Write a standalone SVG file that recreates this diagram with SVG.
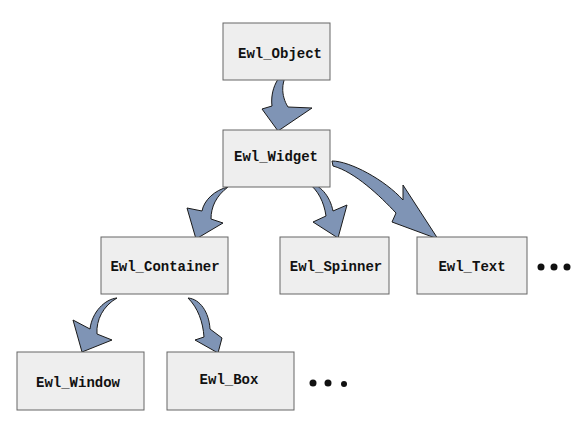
<svg xmlns="http://www.w3.org/2000/svg" width="579" height="429" viewBox="0 0 579 429">
<style>
.box{fill:#eeeeee;stroke:#666666;stroke-width:1}
.lbl{font-family:"Liberation Mono","Courier New",monospace;font-weight:bold;font-size:14px;fill:#111;text-anchor:middle;dominant-baseline:central}
.arr{fill:#7f94b5;stroke:#1a1a1a;stroke-width:1;stroke-linejoin:miter}
.dot{fill:#111}
</style>
<rect width="579" height="429" fill="#ffffff"/>
<g id="connectors">
<path class="arr" d="M 291,69 C 278,73 270,90 272,106 L 262,109 L 278,131 L 312,108 L 288,107 C 281,96 280,80 291,69 Z"/>
<path class="arr" d="M 228,187 C 215,190 204,200 202,211 L 187,208 L 196,239 L 223,223 L 211,219 C 211,207 216,196 228,187 Z"/>
<path class="arr" d="M 308,183 C 320,184 330,196 333,211 L 347,205 L 338,238 L 313,222 L 326,216 C 324,202 318,190 308,183 Z"/>
<path class="arr" d="M 332,161 C 350,161 385,180 403,200 L 403,185 L 438,239 L 392,222 L 396,213 C 380,196 355,172 333,166 Z"/>
<path class="arr" d="M 117,298 C 105,299 92,312 90,329 L 73,320 L 82,352 L 112,340 L 97,334 C 96,320 103,306 117,298 Z"/>
<path class="arr" d="M 188,298 C 200,299 209,312 210,329 L 222,338 L 218,353 L 195,340 L 204,337 C 203,322 198,308 188,298 Z"/>
</g>
<g id="ewl_object"><rect class="box" x="223" y="23" width="107" height="57"/><text class="lbl" x="280" y="54">Ewl_Object</text></g>
<g id="ewl_widget"><rect class="box" x="223" y="130" width="107" height="57"/><text class="lbl" x="276" y="157">Ewl_Widget</text></g>
<g id="ewl_container"><rect class="box" x="101" y="237" width="127" height="57"/><text class="lbl" x="165" y="267">Ewl_Container</text></g>
<g id="ewl_spinner"><rect class="box" x="280" y="237" width="109" height="57"/><text class="lbl" x="336" y="267">Ewl_Spinner</text></g>
<g id="ewl_text"><rect class="box" x="417" y="237" width="110" height="57"/><text class="lbl" x="472" y="267">Ewl_Text</text></g>
<g id="ewl_window"><rect class="box" x="17" y="352" width="127" height="58"/><text class="lbl" x="78" y="383">Ewl_Window</text></g>
<g id="ewl_box"><rect class="box" x="167" y="352" width="127" height="58"/><text class="lbl" x="229" y="380">Ewl_Box</text></g>
<g id="more1"><circle class="dot" cx="541" cy="267" r="3.5"/><circle class="dot" cx="554" cy="267" r="3.5"/><circle class="dot" cx="567" cy="267" r="3.5"/></g>
<g id="more2"><circle class="dot" cx="313" cy="383" r="3.5"/><circle class="dot" cx="328" cy="383" r="3.5"/><circle class="dot" cx="344" cy="384" r="3"/></g>
</svg>
